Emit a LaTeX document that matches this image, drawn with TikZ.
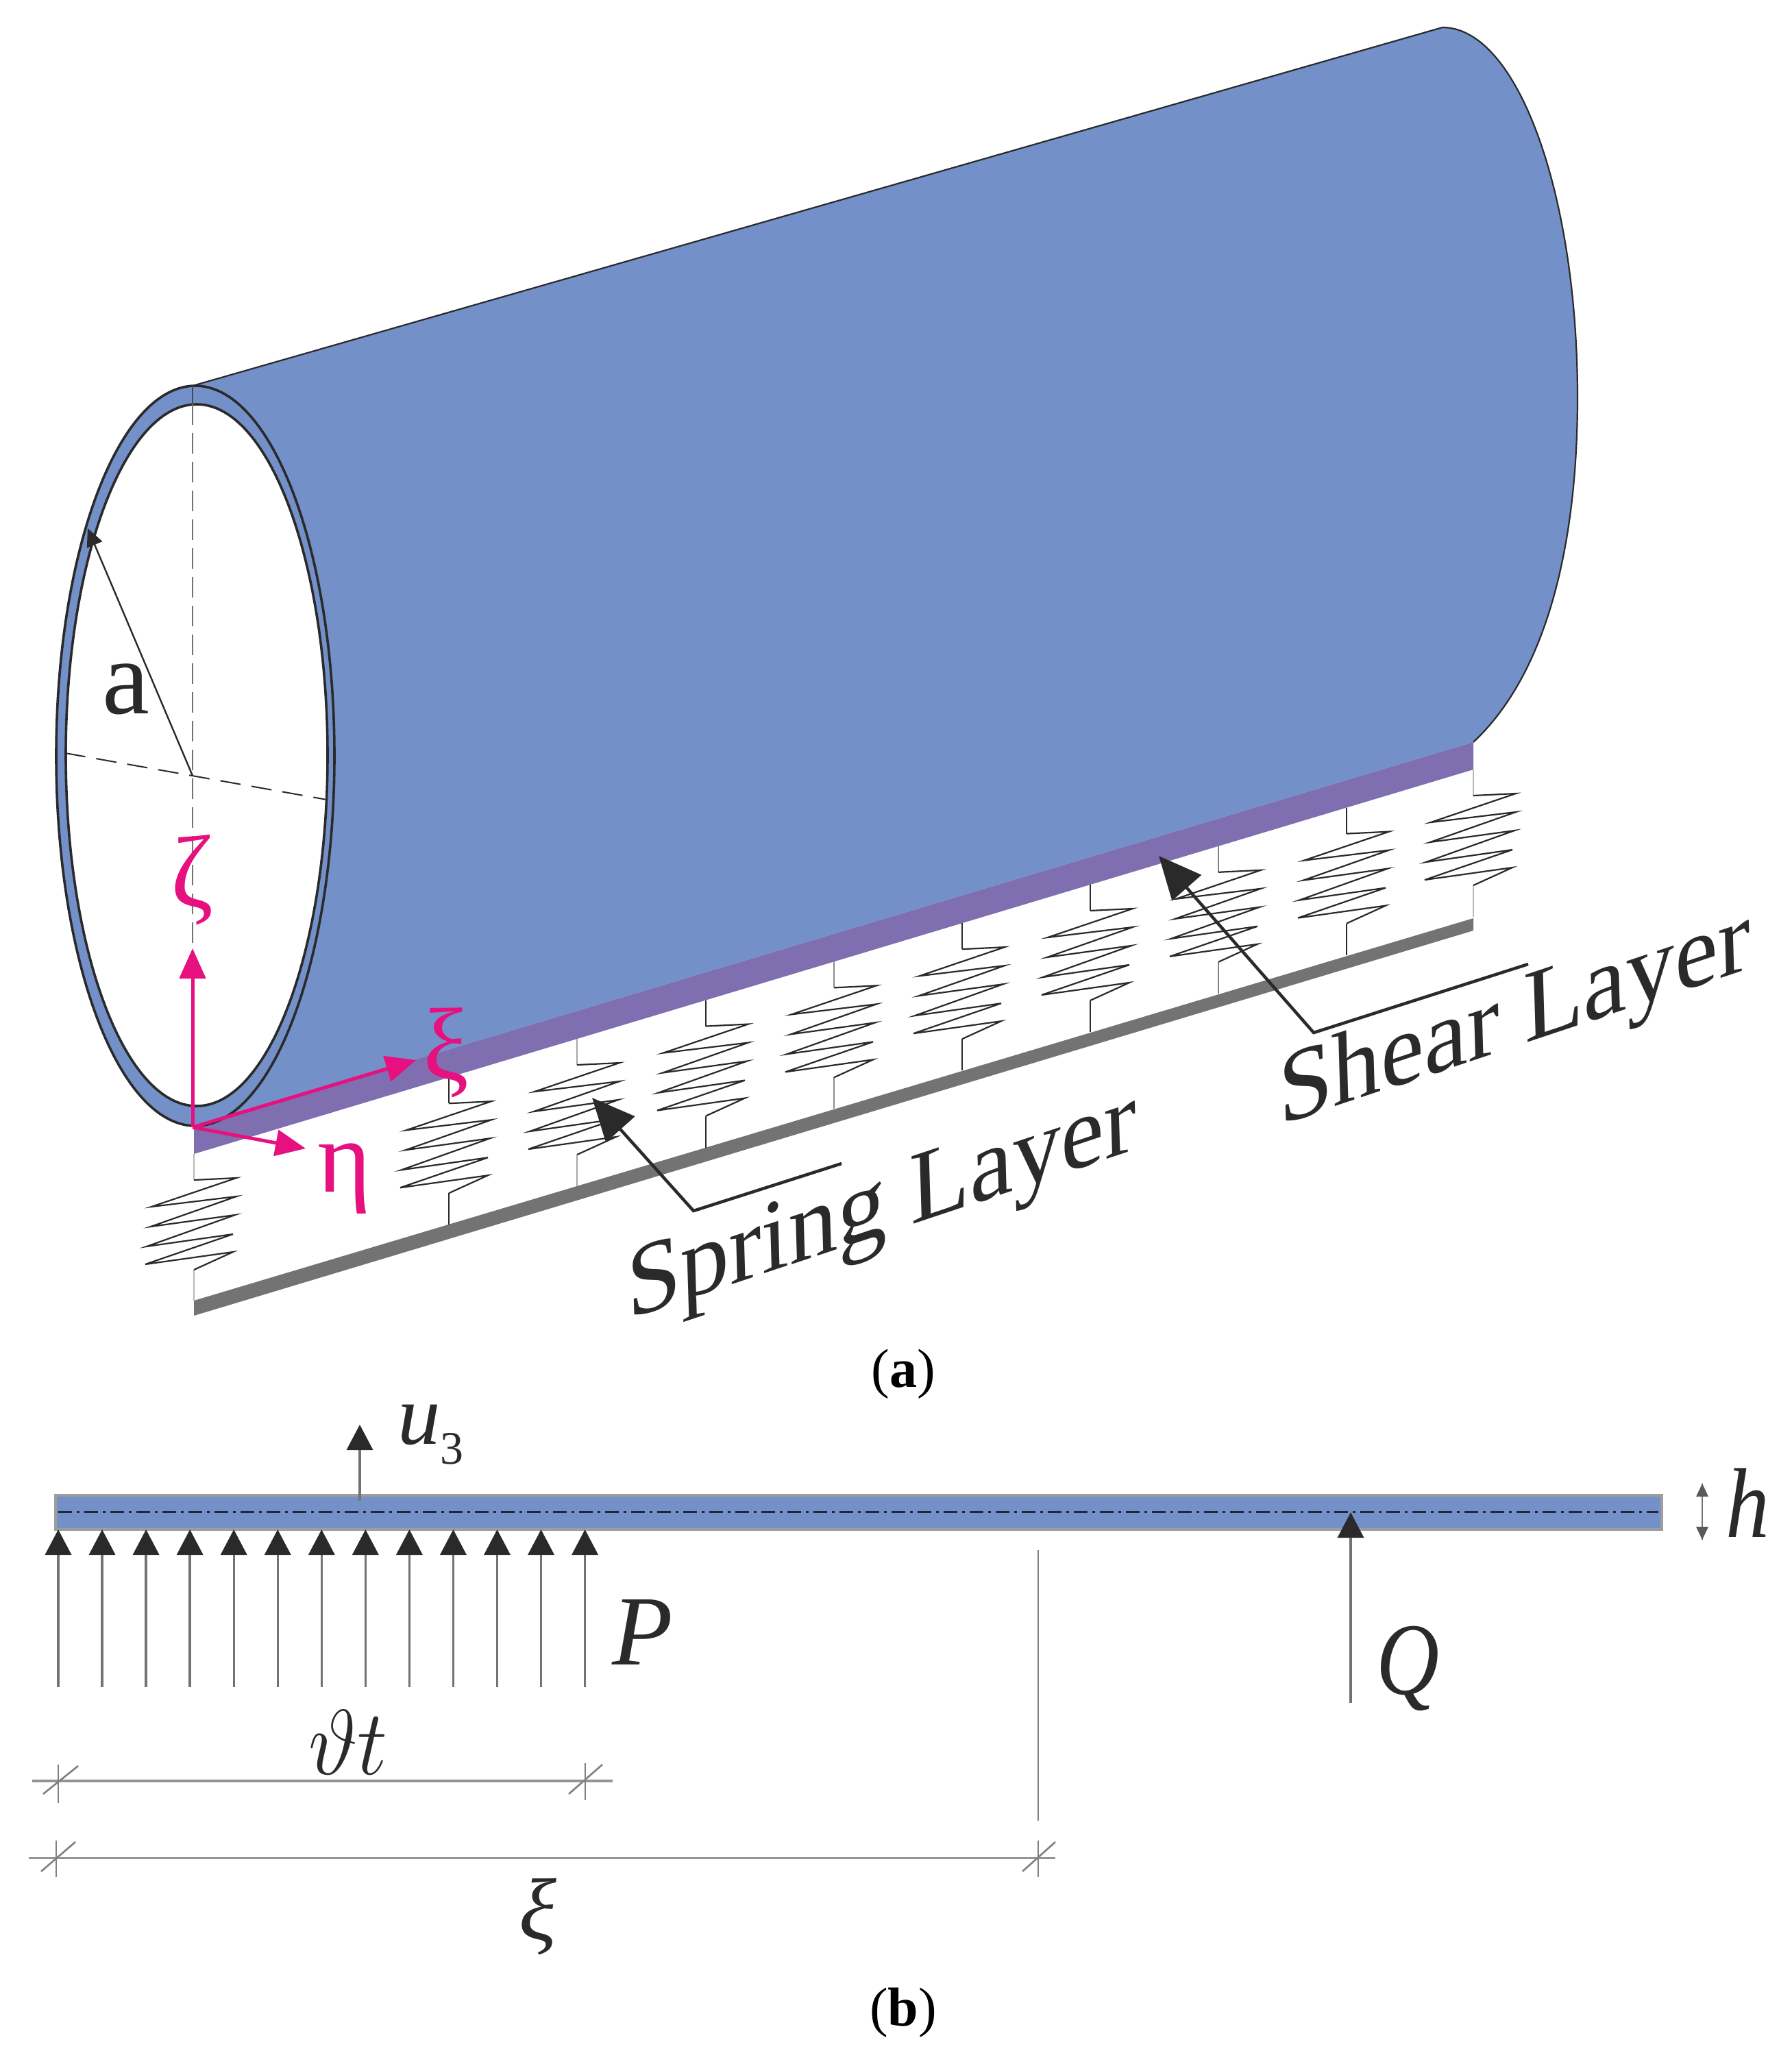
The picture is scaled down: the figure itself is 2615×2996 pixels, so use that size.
\RequirePackage{fix-cm}
\documentclass[tikz,border=0pt]{standalone}
\usepackage{fontspec}
\setmainfont{Liberation Serif}
\usetikzlibrary{arrows.meta}
\definecolor{bodyblue}{HTML}{7490C8}
\definecolor{shearviolet}{HTML}{7F6FB0}
\definecolor{barrgray}{HTML}{737373}
\definecolor{axispink}{HTML}{E6107F}
\definecolor{inkk}{HTML}{2A2A2A}
\newcommand{\fsz}[1]{\fontsize{#1}{#1}\selectfont}
\tikzset{
  x=1pt,y=-1pt,
  every node/.style={inner sep=0pt,outer sep=0pt},
  thinink/.style={draw=inkk,line width=2.4pt},
  axisarrow/.style={draw=axispink,line width=5pt,-{Triangle[length=44pt,width=38pt,color=axispink]}},
  axislabel/.style={text=axispink,font=\fsz{150}},
  leader/.style={draw=inkk,line width=4.5pt,line join=miter,-{Triangle[length=62pt,width=56pt,color=inkk]}},
  layerlabel/.style={text=inkk,font=\fsz{150},anchor=base west,cm={0.945,0.315,-0.03,1,(0,0)}},
  loadarrow/.style={draw=black!55,line width=3.4pt,-{Triangle[length=37pt,width=38pt,color=inkk]}},
  dimline/.style={draw=black!42,line width=3.6pt},
  dimtick/.style={draw=black!50,line width=2.6pt},
  mathlabel/.style={text=inkk,font=\fsz{145}\itshape,anchor=base west},
  caption/.style={text=black,font=\fsz{80}},
  coil/.style={draw=inkk,line width=2.2pt,line join=miter},
}
\begin{document}
\begin{tikzpicture}
\useasboundingbox (0,0) rectangle (2615,2996);
\fill[white] (0,0) rectangle (2615,2996);

% ---------- cylinder body
\fill[bodyblue] (281,563) -- (2105,40)
  .. controls (2214,40) and (2302,282) .. (2302,580)
  .. controls (2302,800) and (2255,985) .. (2150,1083)
  -- (283,1643) -- cycle;
\draw[inkk,line width=2.2pt] (281,563) -- (2105,40)
  .. controls (2214,40) and (2302,282) .. (2302,580)
  .. controls (2302,800) and (2255,985) .. (2150,1083);

% ---------- shear layer
\fill[shearviolet] (283,1643) -- (2150,1083) -- (2150,1123) -- (283,1684) -- cycle;

% ---------- foundation bar
\fill[barrgray] (283,1898) -- (2150,1340) -- (2150,1358) -- (283,1920) -- cycle;

% ---------- springs
\foreach \sx/\stem in {283/black!28,655/inkk,842/black!35,1030/inkk,1217/black!45,1404/inkk,1591/inkk,1778/black!50,1965/inkk,2150/black!28}{
  \pgfmathsetmacro{\sp}{1684-(\sx-283)*0.30048}
  \pgfmathsetmacro{\sa}{\sp+38}
  \pgfmathsetmacro{\se}{\sa+131}
  \pgfmathsetmacro{\sb}{\sp+215}
  \draw[draw=\stem,line width=2.6pt] (\sx,\sp) -- (\sx,\sa);
  \draw[draw=\stem,line width=2.6pt] (\sx,\se) -- (\sx,\sb);
  \begin{scope}[shift={(\sx,\sa)}]
  \draw[coil] (0,0) -- (62,-3) -- (-62,39) -- (62,24) -- (-63,68) -- (60,51)
     -- (-69,97) -- (57,79) -- (-71,123) -- (57,105) -- (0,131);
  \end{scope}
}

% ---------- end ring
\fill[bodyblue,draw=inkk,line width=3.6pt] (285,1103) ellipse [x radius=203,y radius=540];
\fill[white,draw=inkk,line width=3.6pt] (287,1102) ellipse [x radius=191,y radius=512];
\draw[inkk!70!bodyblue,line width=2.4pt] (281,563) -- (281,590);

% ---------- centre lines
\coordinate (centre) at (281,1132);
\coordinate (rimtop) at (281,590);
\coordinate (rimbot) at (281,1640);
\coordinate (rimL) at (95,1099);
\coordinate (rimR) at (477,1167);
\draw[black!55,line width=2.6pt,dash pattern=on 30pt off 12pt] (rimtop) -- (rimbot);
\draw[inkk,line width=2pt,dash pattern=on 30pt off 16pt] (rimL) -- (rimR);
\coordinate (radiustip) at (128,771);
\draw[inkk,line width=2.4pt,-{Triangle[length=26pt,width=24pt,color=inkk]}] (centre) -- (radiustip);
\node[text=inkk,font=\fsz{155}] (alabel) at (184,1006) {a};

% ---------- coordinate axes
\coordinate (origin) at (281,1645);
\coordinate (zetatip) at (281,1384);
\coordinate (xitip) at (607,1547);
\coordinate (etatip) at (446,1676);
\draw[axisarrow] (origin) -- (zetatip);
\draw[axisarrow] (origin) -- (xitip);
\draw[axisarrow] (origin) -- (etatip);
\node[axislabel] (zetalabel) at (281,1284) {ζ};
\node[axislabel] (xilabel) at (651,1536) {ξ};
\node[axislabel] (etalabel) at (503,1720) {η};

% ---------- leaders and layer labels
\coordinate (shearend) at (2230,1407);
\coordinate (shearcorner) at (1917,1507);
\coordinate (sheartip) at (1691,1249);
\draw[leader] (shearend) -- (shearcorner) -- (sheartip);
\node[layerlabel] (shearlabel) at (1867,1642) {Shear Layer};
\coordinate (springend) at (1228,1698);
\coordinate (springcorner) at (1012,1767);
\coordinate (springtip) at (864,1602);
\draw[leader] (springend) -- (springcorner) -- (springtip);
\node[layerlabel] (springlabel) at (916,1925) {Spring Layer};

\node[caption] (capa) at (1318,2005) {(\textbf{a})};

% ---------- panel (b): beam
\fill[bodyblue,draw=black!38,line width=4pt] (81,2182) rectangle (2425,2232);
\coordinate (midL) at (85,2206);
\coordinate (midR) at (2420,2206);
\draw[black!72!bodyblue,line width=3pt,dash pattern=on 20pt off 7pt on 4pt off 7pt] (midL) -- (midR);

% ---------- u3
\coordinate (ubase) at (525,2190);
\coordinate (utip) at (525,2079);
\draw[loadarrow] (ubase) -- (utip);
\node[mathlabel,font=\fsz{125}\itshape] (ulabel) at (580,2107) {u};
\node[text=inkk,font=\fsz{68},anchor=base west] (usub) at (642,2136) {3};

% ---------- distributed load
\foreach \lx in {0,...,12}{
  \coordinate (lb\lx) at ({85+\lx*64.05},2462);
  \coordinate (lt\lx) at ({85+\lx*64.05},2232);
  \draw[loadarrow] (lb\lx) -- (lt\lx);
}
\node[mathlabel] (plabel) at (893,2429) {P};

% ---------- point load
\coordinate (qbase) at (1971,2485);
\coordinate (qtip) at (1971,2207);
\draw[loadarrow] (qbase) -- (qtip);
\node[mathlabel,font=\fsz{150}\itshape,xscale=0.85] (qlabel) at (2008,2472) {Q};

% ---------- thickness
\coordinate (hb) at (2484,2247);
\coordinate (ht) at (2484,2165);
\draw[black!55,line width=2.4pt] (hb) -- (ht);
\fill[black!65] (2484,2165) -- (2475,2184) -- (2493,2184) -- cycle;
\fill[black!65] (2484,2247) -- (2475,2228) -- (2493,2228) -- cycle;
\node[mathlabel,xscale=0.88] (hlabel) at (2518,2243) {h};

% ---------- dimensions
\coordinate (d1L) at (47,2599);
\coordinate (d1R) at (894,2599);
\draw[dimline] (d1L) -- (d1R);
\draw[dimtick] (85,2575) -- (85,2631);
\draw[dimtick] (63,2618) -- (114,2577);
\draw[dimtick] (854,2573) -- (854,2627);
\draw[dimtick] (830,2618) -- (879,2575);
\node[text=inkk,font=\fsz{135},anchor=base west,xscale=0.92] (vtlabel) at (450,2589) {$\vartheta t$};

\coordinate (d2L) at (42,2711);
\coordinate (d2R) at (1540,2711);
\draw[dimline,line width=3pt] (d2L) -- (d2R);
\draw[dimtick] (82,2686) -- (82,2739);
\draw[dimtick] (60,2731) -- (110,2688);
\draw[dimtick] (1515,2686) -- (1515,2739);
\draw[dimtick] (1492,2731) -- (1540,2688);
\coordinate (xiupper) at (1515,2262);
\coordinate (xilower) at (1515,2657);
\draw[dimtick] (xiupper) -- (xilower);
\node[mathlabel,anchor=center,font=\fsz{128}\itshape] (xidim) at (785,2797) {ξ};

\node[caption] (capb) at (1318,2937) {(\textbf{b})};
\end{tikzpicture}
\end{document}
